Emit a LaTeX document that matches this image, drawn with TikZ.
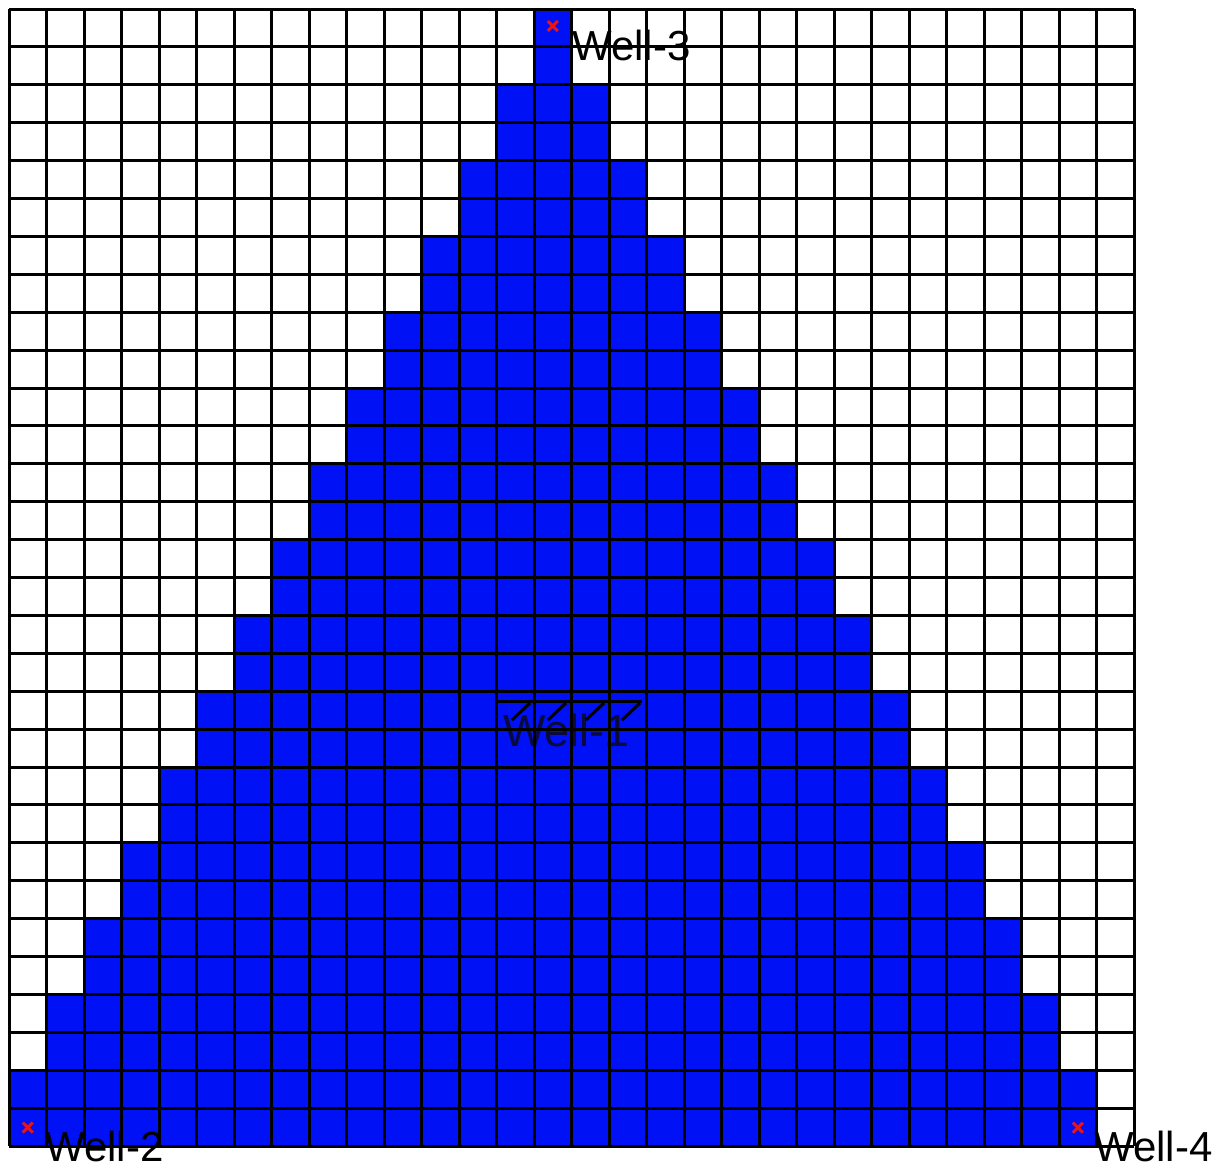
\documentclass[tikz,border=0pt]{standalone}
\usepackage{fontspec}
\setmainfont{Liberation Sans}
\usetikzlibrary{calc}
\definecolor{cellblue}{RGB}{0,18,245}
\definecolor{wellred}{RGB}{235,20,20}
\definecolor{darktext}{RGB}{10,10,60}
\tikzset{
  gridline/.style={black,line width=3pt},
  welllabel/.style={anchor=base west,inner sep=0pt,font=\fontsize{42}{42}\selectfont},
  wellmark/.style={wellred,line width=3pt},
  hatch/.style={black,line width=3pt}
}
\begin{document}
\begin{tikzpicture}[x=1pt,y=-1pt]
\useasboundingbox (0,0) rectangle (1222,1170);
\fill[white] (0,0) rectangle (1222,1170);
% blue cells
\foreach \r in {0,...,29}{
  \pgfmathtruncatemacro\h{int(\r/2)}
  \pgfmathtruncatemacro\a{14-\h}
  \pgfmathtruncatemacro\b{15+\h}
  \fill[cellblue] ({9+\a*37.5},{9+\r*37.9}) rectangle ({9+\b*37.5},{9+(\r+1)*37.9});
}
% labels
\node[welllabel] (w3) at (572,60) {Well-3};
\node[welllabel] (w2) at (45,1161) {Well-2};
\node[welllabel] (w4) at (1094,1161) {Well-4};
\node[welllabel,text=darktext,font=\fontsize{45}{45}\selectfont] (w1) at (503,746) {Well-1};
% grid
\foreach \i in {0,...,30}{
  \draw[gridline] ({9+\i*37.5},9) -- ({9+\i*37.5},1146);
  \draw[gridline] (9,{9+\i*37.9}) -- (1134,{9+\i*37.9});
}
% Well-1 artefact line and ticks
\draw[hatch] (497,701) -- (642,701);
\foreach \x in {522,558,596,632}{
  \draw[hatch] (\x-10,720) -- (\x+8,703);
}
% well markers
\coordinate (m3) at (552.75,26);
\coordinate (m2) at (27.75,1127.6);
\coordinate (m4) at (1077.75,1127.6);
\foreach \n in {m3,m2,m4}{
  \draw[wellmark] ($(\n)+(-5,-5)$) -- ($(\n)+(5,5)$);
  \draw[wellmark] ($(\n)+(-5,5)$) -- ($(\n)+(5,-5)$);
}
\end{tikzpicture}
\end{document}
